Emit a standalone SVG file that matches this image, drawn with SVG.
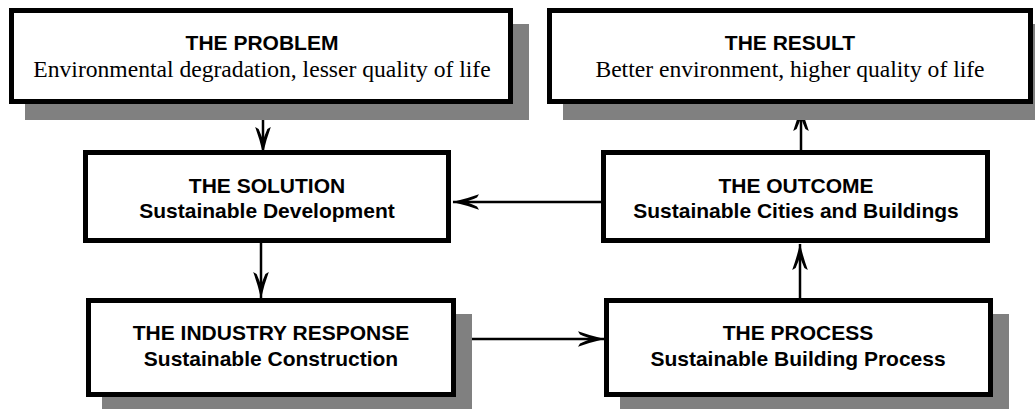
<svg xmlns="http://www.w3.org/2000/svg" width="1035" height="409" viewBox="0 0 1035 409">
  <style>
    .shadow { fill: #808080; }
    .box { fill: #ffffff; stroke: #000000; stroke-width: 5; }
    .title { font-family: "Liberation Sans", Arial, sans-serif; font-weight: bold; font-size: 21px; fill: #000; text-anchor: middle; }
    .sub-serif { font-family: "Liberation Serif", "Times New Roman", serif; font-size: 23.6px; fill: #000; text-anchor: middle; }
    .sub-sans { font-family: "Liberation Sans", Arial, sans-serif; font-weight: bold; font-size: 21px; fill: #000; text-anchor: middle; }
    .link { fill: none; stroke: #000000; stroke-width: 2.5; marker-end: url(#head); }
  </style>
  <defs>
    <!-- slender concave arrowhead, tip at the origin -->
    <marker id="head" viewBox="-28 -9 29 18" refX="0" refY="0" markerWidth="29" markerHeight="18" markerUnits="userSpaceOnUse" orient="auto">
      <path d="M0.5,0 Q-14,-3.4 -26,-7.8 L-24,-4.4 Q-17,-1.4 -13,0 Q-17,1.4 -24,4.4 L-26,7.8 Q-14,3.4 0.5,0 Z" fill="#000"/>
    </marker>
  </defs>

  <rect width="1035" height="409" fill="#ffffff"/>

  <!-- connectors -->
  <g id="connectors">
    <path class="link" d="M263,104 L263,153"/>
    <path class="link" d="M261,243 L261,298"/>
    <path class="link" d="M456,339 L604,339"/>
    <path class="link" d="M800,298 L800,244"/>
    <path class="link" d="M801,151 L801,105"/>
    <path class="link" d="M601,202 L453,202"/>
  </g>

  <g id="problem">
    <rect class="shadow" x="25" y="24" width="504" height="96"/>
    <rect class="box" x="11.5" y="10.5" width="499" height="91"/>
    <text class="title" x="262" y="50">THE PROBLEM</text>
    <text class="sub-serif" x="262" y="77">Environmental degradation, lesser quality of life</text>
  </g>

  <g id="result">
    <rect class="shadow" x="563" y="24" width="486" height="96"/>
    <rect class="box" x="549.5" y="10.5" width="481" height="91"/>
    <text class="title" x="790" y="50">THE RESULT</text>
    <text class="sub-serif" x="790" y="77">Better environment, higher quality of life</text>
  </g>

  <g id="solution">
    <rect class="box" x="85.5" y="152.5" width="363" height="88"/>
    <text class="title" x="267" y="193">THE SOLUTION</text>
    <text class="sub-sans" x="267" y="218">Sustainable Development</text>
  </g>

  <g id="outcome">
    <rect class="box" x="603.5" y="152.5" width="384" height="88"/>
    <text class="title" x="796" y="193">THE OUTCOME</text>
    <text class="sub-sans" x="796" y="218">Sustainable Cities and Buildings</text>
  </g>

  <g id="industry-response">
    <rect class="shadow" x="102" y="314" width="370" height="99"/>
    <rect class="box" x="88.5" y="300.5" width="365" height="94"/>
    <text class="title" x="271" y="340">THE INDUSTRY RESPONSE</text>
    <text class="sub-sans" x="271" y="366">Sustainable Construction</text>
  </g>

  <g id="process">
    <rect class="shadow" x="620" y="314" width="389" height="99"/>
    <rect class="box" x="606.5" y="300.5" width="384" height="94"/>
    <text class="title" x="798" y="340">THE PROCESS</text>
    <text class="sub-sans" x="798" y="366">Sustainable Building Process</text>
  </g>
</svg>
